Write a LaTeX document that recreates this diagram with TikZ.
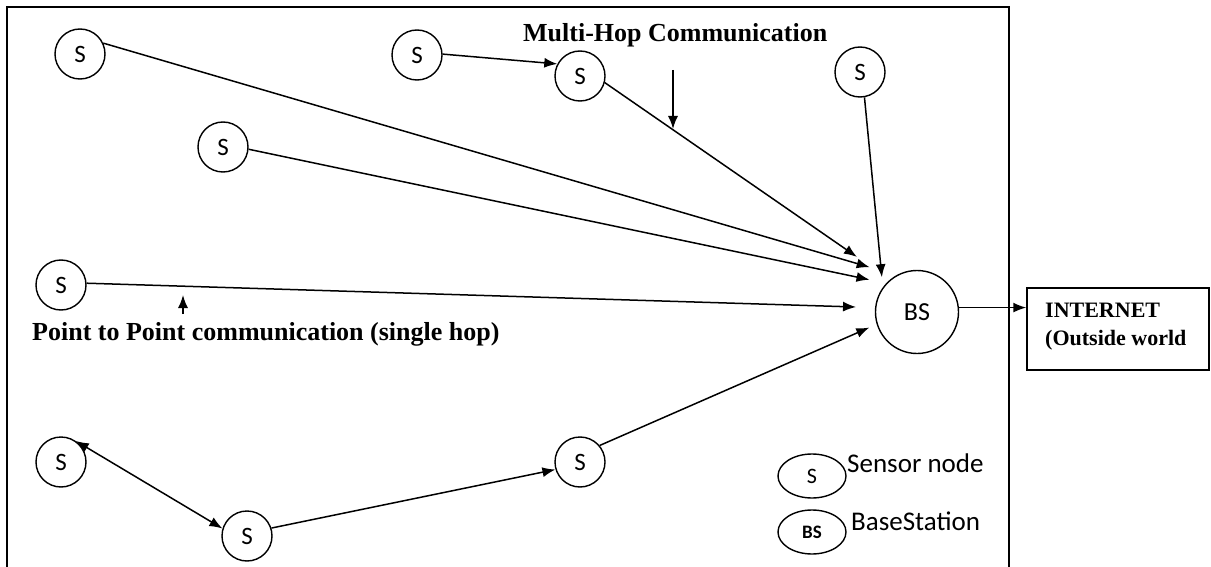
\documentclass[tikz,border=0pt]{standalone}
\usepackage{fontspec}
\setmainfont{Liberation Serif}
\newfontfamily\calfont{Carlito}
\usetikzlibrary{arrows.meta,shapes.geometric}
\tikzset{
  sensor/.style={draw, circle, line width=1.4pt, minimum size=50pt, inner sep=0pt, font=\calfont\fontsize{25}{25}\selectfont},
  basestn/.style={draw, circle, line width=1.4pt, minimum size=83pt, inner sep=0pt, font=\calfont\fontsize{26}{26}\selectfont},
  keyell/.style={draw, ellipse, line width=1.4pt, minimum width=68pt, minimum height=44pt, inner sep=0pt},
  link/.style={line width=1.5pt, -{Latex[length=13pt,width=10pt]}},
  lbl/.style={anchor=base west, inner sep=0pt, font=\bfseries\fontsize{26}{30}\selectfont},
  inettxt/.style={anchor=base west, inner sep=0pt, font=\bfseries\fontsize{22}{26}\selectfont},
  keytxt/.style={anchor=base west, inner sep=0pt, font=\calfont\fontsize{27}{30}\selectfont}
}
\begin{document}
\begin{tikzpicture}[x=1pt,y=1pt,yscale=-1]
\useasboundingbox (0,0) rectangle (1211,567);
%Shape: Frame
\draw[line width=1.6pt] (7,567) -- (7,7) -- (1009,7) -- (1009,567);
%Shape: Circle
\node[sensor] (s1) at (80,54) {S};
\node[sensor] (s2) at (417,55) {S};
\node[sensor] (s3) at (580,76) {S};
\node[sensor] (s4) at (223,147) {S};
\node[sensor] (s5) at (61,285) {S};
\node[sensor] (s6) at (860,72) {S};
\node[sensor] (s7) at (61,462) {S};
\node[sensor] (s8) at (580,462) {S};
\node[sensor] (s9) at (247,536) {S};
\node[basestn] (bs) at (917,312) {BS};
%Shape: Rectangle
\node[draw, line width=1.5pt, minimum width=182pt, minimum height=82pt, inner sep=0pt] (inet) at (1118,329) {};
% Text Node
\node[inettxt] (inet1) at (1045,317) {INTERNET};
\node[inettxt] (inet2) at (1045,345) {(Outside world};
%Straight Lines
\draw[link] (s2.2) -- (s3.152);
\draw[link, shorten >=28pt] (s1.25) -- (bs.119);
\draw[link, shorten >=17pt] (s4.-5) -- (bs.137);
\draw[link, shorten >=19pt] (s5.4) -- (bs.174);
\draw[link, shorten >=40pt] (s3.-15) -- (bs.130);
\draw[link, shorten >=10pt] (s6.-80) -- (bs.144);
\draw[link, shorten >=8pt] (s8.40) -- (bs.197);
\draw[link, {Latex[length=13pt,width=10pt]}-{Latex[length=13pt,width=10pt]}] (s7.55) -- (s9.163);
\draw[link] (s9.18) -- (s8.197);
\draw[link] (bs.6) -- (bs.6 -| inet.west);
% Text Node
\node[lbl] (mhop) at (523,42) {Multi-Hop Communication};
\coordinate (mhtail) at (673,70);
\coordinate (mhtip) at (673,129);
\draw[link] (mhtail) -- (mhtip);
\node[lbl] (ptp) at (32,340) {Point to Point communication (single hop)};
\coordinate (ptptail) at (183,314);
\coordinate (ptptip) at (183,295);
\draw[link] (ptptail) -- (ptptip);
%Legend
\node[keyell, font=\calfont\fontsize{22}{22}\selectfont] (keys) at (812,476) {S};
\node[keytxt] (keystxt) at (847,472) {Sensor node};
\node[keyell, font=\calfont\bfseries\fontsize{19}{19}\selectfont] (keybs) at (812,532) {BS};
\node[keytxt] (keybstxt) at (851,530) {BaseStation};
\end{tikzpicture}
\end{document}
